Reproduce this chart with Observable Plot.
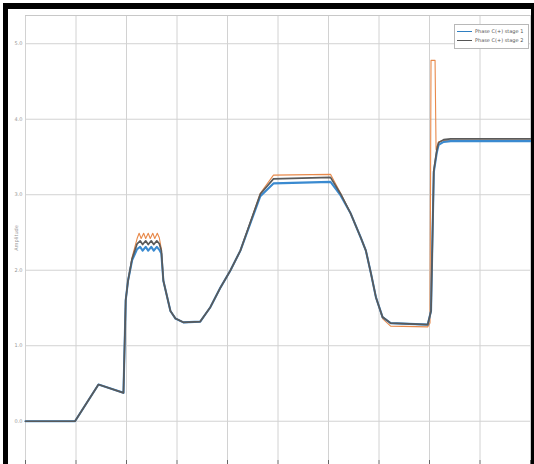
<!DOCTYPE html>
<html>
<head>
<meta charset="utf-8">
<script src="https://cdn.jsdelivr.net/npm/d3@7"></script>
<script src="https://cdn.jsdelivr.net/npm/@observablehq/plot@0.6"></script>
<style>
  html, body { margin: 0; padding: 0; background: #fff; }
  #wrap { position: relative; width: 534px; height: 464px; overflow: hidden; font-family: "DejaVu Sans", sans-serif; }
  #border { position: absolute; left: 3px; top: 3px; width: 523px; height: 470px; border-left: 5px solid #000; border-top: 6px solid #000; border-right: 3px solid #000; }
  #chart { position: absolute; left: 0; top: 0; }
  #legend { position: absolute; left: 454px; top: 24px; width: 73px; height: 23px; background: #fff; border: 1px solid #b8b8b8; font-size: 5px; color: #555; }
  .row { position: absolute; left: 2px; height: 6px; display: flex; align-items: center; }
  .sw { width: 15px; height: 0; margin-right: 3px; }
</style>
</head>
<body>
<div id="wrap">
  <div id="chart"></div>
  <div id="border"></div>
  <div id="legend">
    <div class="row" style="top:3px"><div class="sw" style="border-top:1px solid #2f7fc1"></div><span>Phase C(+) stage 1</span></div>
    <div class="row" style="top:12px"><div class="sw" style="border-top:1px solid #555"></div><span>Phase C(+) stage 2</span></div>
  </div>
</div>
<script>
const xTicks = [0, 1, 2, 3, 4, 5, 6, 7, 8, 9, 10];
const yTicks = [0, 1, 2, 3, 4, 5];

const darkX = [0, 0.98, 1.445, 1.94, 1.984, 2.03, 2.11, 2.21, 2.27, 2.32, 2.38, 2.43, 2.49, 2.54, 2.60, 2.65, 2.69, 2.73, 2.87, 2.97, 3.125, 3.46, 3.66, 3.86, 4.06, 4.255, 4.65, 4.91, 6.04, 6.24, 6.44, 6.64, 6.74, 6.84, 6.94, 7.07, 7.23, 7.965, 8.03, 8.085, 8.145, 8.18, 8.28, 8.42, 10];
const darkY = [0, 0, 0.486, 0.376, 1.60, 1.86, 2.15, 2.35, 2.39, 2.34, 2.39, 2.34, 2.39, 2.34, 2.39, 2.35, 2.26, 1.86, 1.46, 1.36, 1.31, 1.32, 1.51, 1.77, 2.00, 2.26, 3.01, 3.21, 3.23, 3.01, 2.75, 2.43, 2.26, 1.96, 1.64, 1.38, 1.30, 1.28, 1.46, 3.32, 3.59, 3.69, 3.73, 3.74, 3.74];

const orangeX = [0, 0.98, 1.445, 1.94, 1.984, 2.03, 2.11, 2.21, 2.25, 2.29, 2.34, 2.38, 2.43, 2.47, 2.52, 2.56, 2.61, 2.65, 2.69, 2.73, 2.87, 2.97, 3.125, 3.46, 3.66, 3.86, 4.06, 4.255, 4.65, 4.91, 6.04, 6.24, 6.44, 6.64, 6.74, 6.84, 6.94, 7.07, 7.23, 7.965, 8.01, 8.03, 8.11, 8.13, 8.18, 8.28, 8.42, 10];
const orangeY = [0, 0, 0.486, 0.376, 1.60, 1.86, 2.17, 2.42, 2.49, 2.42, 2.49, 2.42, 2.49, 2.42, 2.49, 2.42, 2.49, 2.43, 2.28, 1.86, 1.46, 1.36, 1.31, 1.32, 1.51, 1.77, 2.00, 2.26, 3.02, 3.26, 3.27, 3.02, 2.75, 2.43, 2.26, 1.96, 1.64, 1.36, 1.26, 1.25, 1.30, 4.78, 4.78, 3.60, 3.70, 3.72, 3.72, 3.72];

const blueX = [0, 0.98, 1.445, 1.94, 1.984, 2.03, 2.11, 2.21, 2.27, 2.32, 2.38, 2.43, 2.49, 2.54, 2.60, 2.65, 2.69, 2.73, 2.87, 2.97, 3.125, 3.46, 3.66, 3.86, 4.06, 4.255, 4.65, 4.91, 6.04, 6.24, 6.44, 6.64, 6.74, 6.84, 6.94, 7.07, 7.23, 7.965, 8.03, 8.085, 8.145, 8.18, 8.28, 8.42, 10];
const blueY = [0, 0, 0.486, 0.376, 1.60, 1.86, 2.13, 2.28, 2.31, 2.26, 2.31, 2.26, 2.31, 2.26, 2.31, 2.27, 2.22, 1.86, 1.46, 1.36, 1.31, 1.32, 1.51, 1.77, 2.00, 2.26, 2.98, 3.15, 3.17, 2.99, 2.75, 2.43, 2.26, 1.96, 1.64, 1.38, 1.30, 1.28, 1.46, 3.30, 3.56, 3.66, 3.70, 3.71, 3.71];

const toRows = (xs, ys) => xs.map((x, i) => ({x, y: ys[i]}));

const chart = Plot.plot({
  width: 534,
  height: 464,
  marginLeft: 25,
  marginRight: 4,
  marginTop: 15,
  marginBottom: 4,
  style: {background: "transparent", fontFamily: "DejaVu Sans, sans-serif"},
  x: {domain: [0, 10], ticks: xTicks, label: null},
  y: {domain: [-0.52, 5.374], ticks: yTicks},
  marks: [
    Plot.gridX(xTicks, {stroke: "#d2d2d2", strokeOpacity: 1}),
    Plot.gridY(yTicks, {stroke: "#d2d2d2", strokeOpacity: 1}),
    Plot.ruleY([5.374], {stroke: "#c8c8c8"}),
    Plot.axisX(xTicks, {tickSize: 4, tickFormat: () => "", stroke: "#666", label: null}),
    Plot.axisY(yTicks, {tickSize: 0, tickPadding: 3, fontSize: 5, fill: "#999", label: "Amplitude", labelAnchor: "center", labelArrow: "none", labelOffset: 11}),
    Plot.line(toRows(orangeX, orangeY), {x: "x", y: "y", stroke: "#e8894a", strokeWidth: 1.1}),
    Plot.line(toRows(blueX, blueY), {x: "x", y: "y", stroke: "#3a8ad0", strokeWidth: 2.1}),
    Plot.line(toRows(darkX, darkY), {x: "x", y: "y", stroke: "#5a5a5a", strokeWidth: 1.7})
  ]
});
document.getElementById("chart").appendChild(chart);
</script>
</body>
</html>
